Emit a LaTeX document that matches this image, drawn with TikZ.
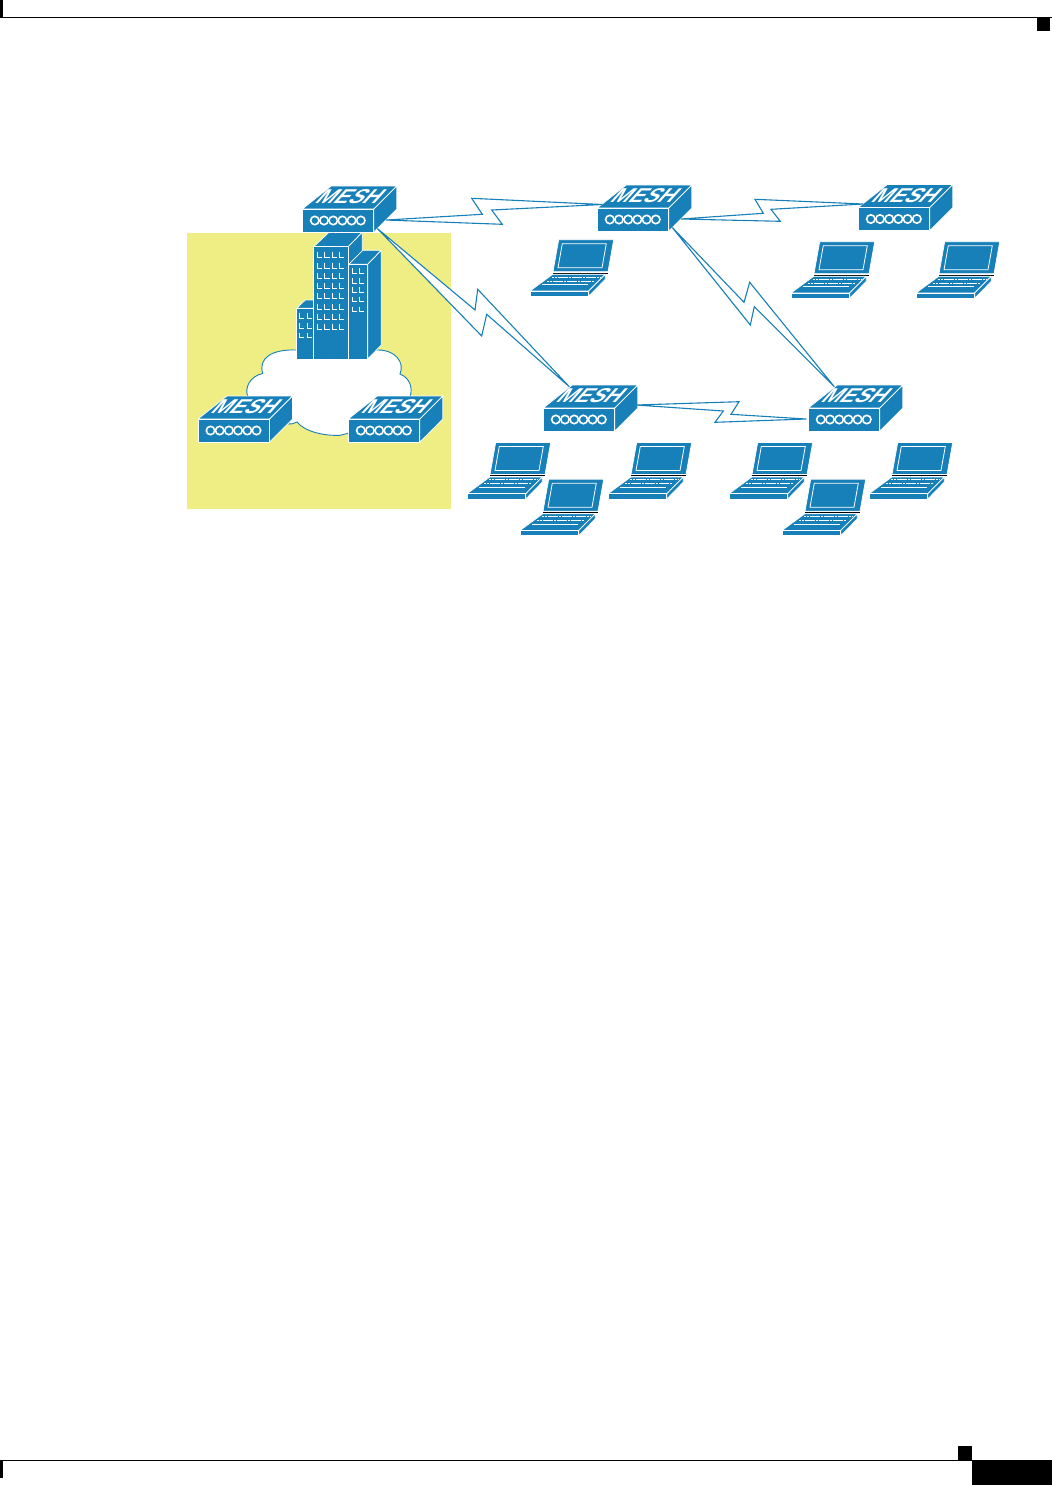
\documentclass[tikz,border=0pt]{standalone}
\usepackage{fontspec}
\setsansfont{Liberation Sans}
\definecolor{meshblue}{HTML}{1780B8}
\definecolor{padyellow}{HTML}{EFEE85}
\tikzset{
	face/.style={fill=meshblue,draw=white,line width=0.35pt,line join=round},
	glass/.style={draw=white,line width=0.4pt,line join=miter},
	link/.style={fill=white,draw=meshblue,line width=0.55pt,line join=miter},
	meshlabel/.style={text=white,inner sep=0pt,font=\sffamily\bfseries\fontsize{10}{10}\selectfont,transform shape,xslant=0.9,xscale=1.08},
	window/.style={draw=white,line width=0.45pt},
	pagemark/.style={fill=black},
}
\begin{document}
\begin{tikzpicture}[x=0.5pt,y=-0.5pt]
			\useasboundingbox (0,0) rectangle (1052,1485);
			
			\newcommand{\Mesh}[3]{%
				\begin{scope}[shift={(#2,#3)}]
					\coordinate (#1) at (0,0);
					\coordinate (#1-side) at (83.5,11);
					\coordinate (#1-back) at (92.5,-3);
					\coordinate (#1-foot) at (75,19.5);
					\coordinate (#1-top) at (26,-21.3);
					\coordinate (#1-nose) at (5,-3.5);
					\coordinate (#1-left) at (-2,11);
					\filldraw[face] (0,0) -- (29,-23) -- (94.5,-23) -- (71.5,0) -- cycle;% Top Face
					\filldraw[face] (71.5,0) -- (94.5,-23) -- (94.5,0) -- (71.5,23) -- cycle;% Right Face
					\filldraw[face] (0,0) rectangle (71.5,23);% Front Face
					\foreach \i in {0,...,5}
						\draw[white,line width=0.8pt] (12.5+9.2*\i,11.5) circle (4.2);
					\node[meshlabel] (#1-name) at (49,-12) {MESH};
				\end{scope}
			}
			
			\newcommand{\Laptop}[3]{%
				\begin{scope}[shift={(#2,#3)}]
					\coordinate (#1) at (0,0);
					\filldraw[face] (28.7,-51.3) -- (83.7,-51.3) -- (78,-19.3) -- (23,-19.3) -- cycle;% Lid
					\draw[glass] (32.3,-47.3) -- (76.3,-47.3) -- (72,-23.3) -- (28,-23.3) -- cycle;% Screen
					\draw[black,line width=0.4pt] (23,-18) -- (78,-18);
					\filldraw[face] (0,0) -- (22.7,-16.7) -- (75.3,-16.7) -- (58.7,0) -- cycle;% Keyboard
					\filldraw[face] (58.7,0) -- (75.3,-16.7) -- (75.3,-11.7) -- (58.7,5.3) -- cycle;% Right Side
					\filldraw[face] (0,0) rectangle (58.7,5.3);% Front Side
					\draw[white,line width=0.35pt,dash pattern=on 1.2pt off 0.2pt] (22,-14) -- (70,-14);
					\draw[white,line width=0.35pt,dash pattern=on 1.2pt off 0.2pt] (17,-10) -- (64,-10);
					\draw[white,line width=0.35pt] (12,-6.5) -- (58,-6.5);
				\end{scope}
			}
			
			\newcommand{\Link}[6]{%
				\draw[link] (#1) -- #3 -- #4 -- (#2) -- #5 -- #6 -- cycle;
			}
			
			%page marks
			\fill[pagemark] (0,0) rectangle (3,17);
			\fill[pagemark] (0,16.5) rectangle (1052,18);
			\fill[pagemark] (1037,18) rectangle (1050,31);
			\fill[pagemark] (0,1459.5) rectangle (972,1461);
			\fill[pagemark] (958,1446) rectangle (972,1460);
			\fill[pagemark] (972,1460) rectangle (1052,1485);
			\fill[pagemark] (0,1460) rectangle (3,1478);
			
			\fill[padyellow] (187,233) rectangle (451,509);
			
			%cloud
			\filldraw[fill=white,draw=meshblue,line width=0.45pt] (296.7,350)
				.. controls (272,349) and (258,358) .. (262.7,373.5)
				.. controls (250,376) and (244,388) .. (248,397)
				-- (288,424)
				.. controls (291,424) and (294,424) .. (297,422)
				.. controls (305,432) and (325,436) .. (340,435.3)
				-- (349,433) -- (410,397)
				.. controls (413,388) and (410,378) .. (400,374)
				.. controls (405,362) and (395,350) .. (378,350)
				-- cycle;
			
			%buildings
			\filldraw[face] (296.7,308.3) -- (305.3,300) -- (313.7,300) -- (313.7,308.3) -- cycle;
			\filldraw[face] (296.7,308.3) rectangle (313.7,359);
			\filldraw[face] (313.7,246.7) -- (329,232.3) -- (362.3,232.3) -- (348.3,246.7) -- cycle;
			\filldraw[face] (348.3,246.7) -- (362.3,232.3) -- (362.3,300) -- (348.3,300) -- cycle;
			\filldraw[face] (313.7,246.7) rectangle (348.3,359);
			\filldraw[face] (348.7,264.3) -- (362.7,250.3) -- (381.3,250.3) -- (367.7,264.3) -- cycle;
			\filldraw[face] (367.7,264.3) -- (381.3,250.3) -- (381.3,345) -- (367.7,359) -- cycle;
			\filldraw[face] (348.7,264.3) rectangle (367.7,359);
			\foreach \y in {257.3,268.3,278.3,288.3,298.3,309,319,329.3}
				\foreach \x in {317.3,324.7,332,339}
					\draw[window] (\x,\y-5) -- (\x,\y) -- (\x+5,\y);
			\foreach \y in {273.3,283.3,292.3,301.7,311.7}
				\foreach \x in {352.3,359.3}
					\draw[window] (\x,\y-5) -- (\x,\y) -- (\x+5,\y);
			\foreach \y in {318.3,328.3,337.7}
				\foreach \x in {299.3,307.3}
					\draw[window] (\x,\y-5) -- (\x,\y) -- (\x+4.5,\y);
			
			%access points
			\Mesh{meshRoof}{302.3}{209}
			\Mesh{meshTop}{597.3}{208}
			\Mesh{meshFar}{858.3}{207.5}
			\Mesh{meshMid}{543.3}{408}
			\Mesh{meshEnd}{808.3}{408}
			\Mesh{meshWest}{198}{419}
			\Mesh{meshEast}{348.3}{419}
			
			%laptops
			\Laptop{lapTop}{530}{291}
			\Laptop{lapFarA}{791}{293}
			\Laptop{lapFarB}{916}{293}
			\Laptop{lapMidA}{467}{493.8}
			\Laptop{lapMidB}{520}{530.5}
			\Laptop{lapMidC}{608}{493.8}
			\Laptop{lapEndA}{729}{493.8}
			\Laptop{lapEndB}{782}{530.5}
			\Laptop{lapEndC}{869}{493.8}
			
			%radio links
			\Link{meshRoof-side}{meshTop-nose}{(482.3,214.3)}{(471.7,198.3)}{(491.7,210)}{(502.3,224.3)}
			\Link{meshRoof-foot}{meshMid-top}{(475,310)}{(477.7,289.3)}{(486.7,314.3)}{(481.7,336)}
			\Link{meshTop-side}{meshFar-nose}{(763.3,213.3)}{(755,199.3)}{(771,209.3)}{(780.3,221.3)}
			\Link{meshTop-foot}{meshEnd-top}{(744,302.3)}{(749.7,282.3)}{(754.3,306.7)}{(750.3,325)}
			\Link{meshMid-back}{meshEnd-left}{(739,401.7)}{(731,414.3)}{(715,422.3)}{(723.3,411)}
		\end{tikzpicture}
\end{document}
